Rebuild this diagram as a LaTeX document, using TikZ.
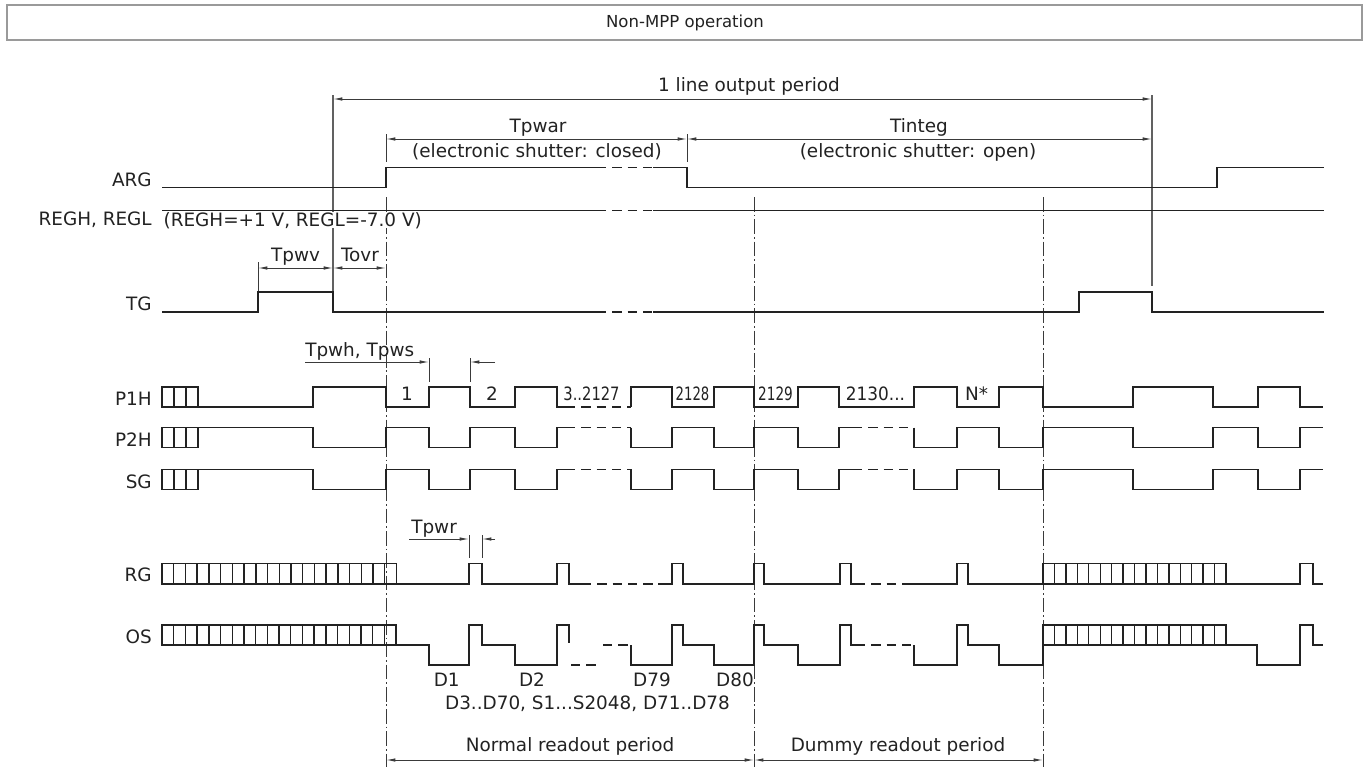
\documentclass[tikz,border=0pt]{standalone}
\usepackage{fontspec}
\setmainfont{DejaVu Sans}
\usetikzlibrary{arrows.meta}
\definecolor{ink}{HTML}{222222}
\definecolor{dimc}{HTML}{3A3A3A}
\definecolor{frame}{HTML}{9A9A9A}
\newcommand\myinvwave[2]{%
  \draw[sig] (162,#1) rectangle (198,#2) (174,#1)--(174,#2) (186,#1)--(186,#2);
  \draw[sig] (198,#1) -- (313,#1) -- (313,#2) -- (386,#2) -- (386,#1) -- (429,#1) -- (429,#2) -- (470,#2) -- (470,#1) -- (515,#1) -- (515,#2) -- (557,#2) -- (557,#1) -- (566,#1);
  \draw[sig,brk] (566,#1) -- (631,#1);
  \draw[sig] (631,#1) -- (631,#2) -- (672,#2) -- (672,#1) -- (714,#1) -- (714,#2) -- (754,#2) -- (754,#1) -- (798,#1) -- (798,#2) -- (839,#2) -- (839,#1) -- (853,#1);
  \draw[sig,brk] (853,#1) -- (914,#1);
  \draw[sig] (914,#1) -- (914,#2) -- (957,#2) -- (957,#1) -- (999,#1) -- (999,#2) -- (1043,#2) -- (1043,#1) -- (1133,#1) -- (1133,#2) -- (1213,#2) -- (1213,#1) -- (1258,#1) -- (1258,#2) -- (1300,#2) -- (1300,#1) -- (1323,#1);}
\begin{document}
\begin{tikzpicture}[x=0.75pt,y=-0.75pt,
  every node/.style={font=\fontsize{13.8}{16}\selectfont, text=ink, inner sep=0pt},
  sig/.style={draw=ink, line width=1.05pt, line join=miter},
  brk/.style={dash pattern=on 7pt off 4.5pt},
  dim/.style={draw=dimc, line width=0.7pt},
  vline/.style={draw=dimc!80, line width=0.9pt},
  dd/.style={draw=dimc, line width=0.7pt, dash pattern=on 11pt off 2.2pt on 1.3pt off 2.2pt},
  tip/.style={arrows={-Latex[length=7pt,width=2.6pt]}},
  tips/.style={arrows={Latex[length=7pt,width=2.6pt]-Latex[length=7pt,width=2.6pt]}},
  lbl/.style={anchor=base east},
  ctr/.style={anchor=base}]
\useasboundingbox (0,0) rectangle (1370,767);

% title
\draw[draw=frame, line width=1pt] (7,5) rectangle (1362,40);
\node[font=\fontsize{12.4}{14}\selectfont] (title) at (685,22.5) {Non-MPP operation};

% signal names
\node[lbl] (nARG) at (152,186) {ARG};
\node[lbl] (nREG) at (152,225.7) {REGH, REGL};
\node[lbl] (nTG) at (152,310.7) {TG};
\node[lbl] (nP1H) at (152,405) {P1H};
\node[lbl] (nP2H) at (152,446.7) {P2H};
\node[lbl] (nSG) at (152,488.3) {SG};
\node[lbl] (nRG) at (152,581.7) {RG};
\node[lbl] (nOS) at (152,643.3) {OS};

% vertical reference lines
\draw[vline] (333,95) -- (333,292);
\draw[vline] (1152,95) -- (1152,286);
\draw[dd] (386,197) -- (386,767);
\draw[dd] (754,197) -- (754,767);
\draw[dd] (1043,197) -- (1043,767);

% dimension: 1 line output period
\draw[dim,tips] (333,99) -- (1152,99);
\node[ctr] (t1line) at (749,92) {1 line output period};
\draw[dim] (386,134) -- (386,162) (687,134) -- (687,162);
\draw[dim,tips] (386,139) -- (687,139);
\draw[dim,tips] (687,139) -- (1152,139);
\node[ctr] (tpwar) at (538,132.7) {Tpwar};
\node[ctr] (tclosed) at (537,157) {(electronic shutter: closed)};
\node[ctr] (tinteg) at (919,132.7) {Tinteg};
\node[ctr] (topen) at (918,157) {(electronic shutter: open)};

% ARG
\draw[sig] (162,187.7) -- (386,187.7) -- (386,167.7) -- (597,167.7);
\draw[sig,brk] (597,167.7) -- (653,167.7);
\draw[sig] (653,167.7) -- (687,167.7) -- (687,187.7) -- (1217,187.7) -- (1217,167.7) -- (1324,167.7);

% REGH, REGL
\draw[sig] (162,210.7) -- (597,210.7);
\draw[sig,brk] (597,210.7) -- (653,210.7);
\draw[sig] (653,210.7) -- (1324,210.7);
\node[anchor=base west, fill=white, inner xsep=1pt] (treg) at (162,226) {(REGH=+1 V, REGL=-7.0 V)};

% Tpwv / Tovr
\draw[dim] (258,262) -- (258,292);
\draw[dim,tips] (258,268) -- (333,268);
\draw[dim,tips] (333,268) -- (386,268);
\node[ctr] (tpwv) at (295.5,261.7) {Tpwv};
\node[ctr] (tovr) at (360,261.7) {Tovr};

% TG
\draw[sig] (162,312) -- (258,312) -- (258,292) -- (333,292) -- (333,312) -- (597,312);
\draw[sig,brk] (597,312) -- (653,312);
\draw[sig] (653,312) -- (1079,312) -- (1079,292) -- (1152,292) -- (1152,312) -- (1324,312);

% Tpwh, Tpws
\node[anchor=base west] (tpwh) at (305,356) {Tpwh, Tpws};
\draw[dim] (429,358) -- (429,382) (470,358) -- (470,382);
\draw[dim,tip] (305,362) -- (429,362);
\draw[dim,tip] (495,362) -- (470,362);

% P1H
\draw[sig] (162,387) rectangle (198,407) (174,387)--(174,407) (186,387)--(186,407);
\draw[sig] (198,407) -- (313,407) -- (313,387) -- (386,387) -- (386,407) -- (429,407) -- (429,387) -- (470,387) -- (470,407) -- (515,407) -- (515,387) -- (557,387) -- (557,407) -- (566,407);
\draw[sig,brk] (566,407) -- (631,407);
\draw[sig] (631,407) -- (631,387) -- (672,387) -- (672,407) -- (714,407) -- (714,387) -- (754,387) -- (754,407) -- (798,407) -- (798,387) -- (839,387) -- (839,407) -- (914,407) -- (914,387) -- (957,387) -- (957,407) -- (999,407) -- (999,387) -- (1043,387) -- (1043,407) -- (1133,407) -- (1133,387) -- (1213,387) -- (1213,407) -- (1258,407) -- (1258,387) -- (1300,387) -- (1300,407) -- (1323,407);
\node[ctr] (c1) at (407,400) {1};
\node[ctr] (c2) at (492,400) {2};
\node[ctr] (c3) at (591.5,400) {\scalebox{0.8}[1]{3..2127}};
\node[ctr] (c2128) at (692.5,400) {\scalebox{0.72}[1]{2128}};
\node[ctr] (c2129) at (775.5,400) {\scalebox{0.74}[1]{2129}};
\node[ctr] (c2130) at (875.5,400) {\scalebox{0.92}[1]{2130...}};
\node[ctr] (cN) at (976.5,400) {N*};

% P2H, SG
\myinvwave{427.7}{447.7}
\myinvwave{469.3}{489.7}

% Tpwr
\node[anchor=base west] (tpwr) at (411,533.3) {Tpwr};
\draw[dim] (469,535) -- (469,558) (482,535) -- (482,558);
\draw[dim,tip] (409,539) -- (469,539);
\draw[dim,tip] (495,539) -- (482,539);

% RG
\draw[sig] (162,563.3) rectangle (396.5,584);
\foreach \k in {1,...,19} \draw[sig] ({162+\k*11.725},563.3) -- ++(0,20.7);
\draw[sig] (396.5,584) -- (469,584) -- (469,563.3) -- (482,563.3) -- (482,584) -- (557,584) -- (557,563.3) -- (569,563.3) -- (569,584) -- (582,584);
\draw[sig,brk] (582,584) -- (658,584);
\draw[sig] (658,584) -- (672,584) -- (672,563.3) -- (683,563.3) -- (683,584) -- (754,584) -- (754,563.3) -- (764,563.3) -- (764,584) -- (840,584) -- (840,563.3) -- (851,563.3) -- (851,584) -- (856,584);
\draw[sig,brk] (856,584) -- (903,584);
\draw[sig] (903,584) -- (957,584) -- (957,563.3) -- (968,563.3) -- (968,584) -- (1043,584);
\draw[sig] (1043,563.3) rectangle (1226,584);
\foreach \k in {1,...,15} \draw[sig] ({1043+\k*11.4375},563.3) -- ++(0,20.7);
\draw[sig] (1226,584) -- (1300,584) -- (1300,563.3) -- (1313,563.3) -- (1313,584) -- (1323,584);

% OS
\draw[sig] (162,625) rectangle (396,645);
\foreach \k in {1,...,19} \draw[sig] ({162+\k*11.7},625) -- ++(0,20);
\draw[sig] (396,645) -- (429,645) -- (429,665) -- (469,665) -- (469,625) -- (482,625) -- (482,645) -- (515,645) -- (515,665) -- (557,665) -- (557,625) -- (569,625) -- (569,643);
\draw[sig,brk] (571,665) -- (597,665);
\draw[sig,brk] (603,645) -- (631,645);
\draw[sig] (631,645) -- (631,665) -- (672,665) -- (672,625) -- (683,625) -- (683,645) -- (714,645) -- (714,665) -- (754,665) -- (754,625) -- (764,625) -- (764,645) -- (798,645) -- (798,665) -- (840,665) -- (840,625) -- (851,625) -- (851,645) -- (856,645);
\draw[sig,brk] (856,645) -- (914,645);
\draw[sig] (914,645) -- (914,665) -- (957,665) -- (957,625) -- (968,625) -- (968,645) -- (999,645) -- (999,665) -- (1043,665) -- (1043,645);
\draw[sig] (1043,625) rectangle (1226,645);
\foreach \k in {1,...,15} \draw[sig] ({1043+\k*11.4375},625) -- ++(0,20);
\draw[sig] (1226,645) -- (1257,645) -- (1257,665) -- (1300,665) -- (1300,625) -- (1313,625) -- (1313,645) -- (1323,645);

% OS data labels
\node[ctr] (d1) at (446.7,686) {D1};
\node[ctr] (d2) at (532,686) {D2};
\node[ctr] (d79) at (652,686) {D79};
\node[ctr] (d80) at (735,686) {D80};
\node[ctr] (dmid) at (587.5,709) {D3..D70, S1...S2048, D71..D78};

% readout periods
\draw[dim,tips] (386,760) -- (754,760);
\draw[dim,tips] (754,760) -- (1043,760);
\node[ctr] (tnorm) at (570,751.7) {Normal readout period};
\node[ctr] (tdummy) at (898,751.7) {Dummy readout period};
\end{tikzpicture}
\end{document}
